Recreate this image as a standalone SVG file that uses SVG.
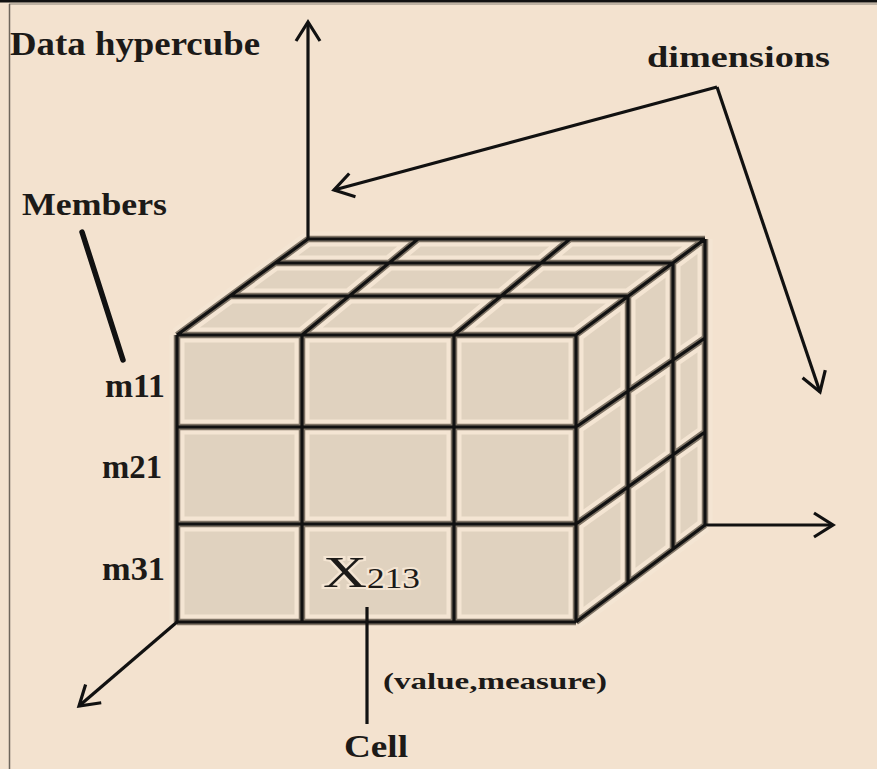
<svg xmlns="http://www.w3.org/2000/svg" xmlns:xlink="http://www.w3.org/1999/xlink" width="877" height="769" viewBox="0 0 877 769">
  <style>
    .bg { fill: #f3e2cf; }
    .face { fill: #e0d2bf; stroke: none; }
    .margin { fill: none; stroke: #f4e5d3; stroke-width: 15; stroke-linejoin: round; }
    .shadow { fill: none; stroke: #7f7466; stroke-width: 6.5; stroke-linejoin: round; }
    .edge { fill: none; stroke: #111; stroke-width: 3.2; stroke-linejoin: round; }
    .conn { fill: none; stroke: #111; stroke-width: 3.2; }
    .lbl { font-family: "Liberation Serif", "Times New Roman", serif; fill: #1c1a18; font-weight: bold; }
    .plain { font-family: "Liberation Serif", "Times New Roman", serif; fill: #1c1a18; }
  </style>
  <defs>
    <marker id="arrow" markerUnits="userSpaceOnUse" viewBox="-22 -14 26 28" refX="0" refY="0" markerWidth="26" markerHeight="28" orient="auto">
      <path d="M-19,-12 L0,0 L-19,12" fill="none" stroke="#111" stroke-width="3.2" stroke-linejoin="miter"/>
    </marker>
    <path id="grid" d="
      M177,335 H576 M177,427 H576 M177,524 H576 M177,622 H576
      M177,335 V622 M302,335 V622 M454,335 V622 M576,335 V622
      M230,296 H628 M275,263 H673 M308,239 H705
      M177,335 L308,239
      M302,335 L418,239
      M454,335 L570,239
      M576,335 L705,239
      M628,296 V583 M673,263 V549 M705,239 V525
      M576,427 L705,338
      M576,524 L705,432
      M576,622 L705,525"/>
  </defs>

  <g id="frame">
    <rect class="bg" x="0" y="0" width="877" height="769"/>
    <rect x="0" y="0" width="877" height="2.5" fill="#111"/>
    <line x1="9" y1="4" x2="877" y2="4" stroke="#8a8278" stroke-width="1.2"/>
    <line x1="9.5" y1="4" x2="9.5" y2="769" stroke="#6e665c" stroke-width="1.5"/>
  </g>

  <g id="cube">
    <rect class="face" x="177" y="335" width="399" height="287"/>
    <polygon class="face" points="177,335 308,239 705,239 576,335"/>
    <polygon class="face" points="576,335 705,239 705,525 576,622"/>
    <use xlink:href="#grid" class="margin"/>
    <use xlink:href="#grid" class="shadow"/>
    <use xlink:href="#grid" class="edge"/>
  </g>

  <g id="connectors">
    <line id="axis-up" class="conn" x1="308" y1="239" x2="308" y2="22" marker-end="url(#arrow)"/>
    <line id="axis-right" class="conn" x1="705" y1="525" x2="833" y2="525" marker-end="url(#arrow)"/>
    <line id="axis-front" class="conn" x1="177" y1="622" x2="79" y2="706" marker-end="url(#arrow)"/>
    <line id="dim-left" class="conn" x1="717" y1="87" x2="334" y2="190" marker-end="url(#arrow)"/>
    <line id="dim-right" class="conn" x1="717" y1="87" x2="820" y2="392" marker-end="url(#arrow)"/>
    <line id="members-line" x1="82" y1="232" x2="123" y2="360" stroke="#111" stroke-width="5.5" stroke-linecap="round"/>
    <line id="cell-line" x1="367" y1="607" x2="367" y2="724" stroke="#111" stroke-width="3.2"/>
  </g>

  <g id="label-data-hypercube">
    <text class="lbl" x="10" y="55" font-size="34" textLength="250" lengthAdjust="spacingAndGlyphs">Data hypercube</text>
  </g>
  <g id="label-dimensions">
    <text class="lbl" x="647" y="67" font-size="29" textLength="183" lengthAdjust="spacingAndGlyphs">dimensions</text>
  </g>
  <g id="label-members">
    <text class="lbl" x="22" y="215" font-size="32" textLength="145" lengthAdjust="spacingAndGlyphs">Members</text>
  </g>
  <g id="label-m11">
    <text class="lbl" x="105" y="397" font-size="33" textLength="60" lengthAdjust="spacingAndGlyphs">m11</text>
  </g>
  <g id="label-m21">
    <text class="lbl" x="102" y="478" font-size="33" textLength="60" lengthAdjust="spacingAndGlyphs">m21</text>
  </g>
  <g id="label-m31">
    <text class="lbl" x="102" y="580" font-size="33" textLength="63" lengthAdjust="spacingAndGlyphs">m31</text>
  </g>
  <g id="label-x213">
    <text class="plain" x="323" y="587" font-size="44" stroke="#f4e5d3" stroke-width="4" paint-order="stroke" textLength="44" lengthAdjust="spacingAndGlyphs">X</text>
    <text class="plain" x="367" y="588" font-size="30" stroke="#f4e5d3" stroke-width="4" paint-order="stroke" textLength="53" lengthAdjust="spacingAndGlyphs">213</text>
  </g>
  <g id="label-value-measure">
    <text class="lbl" x="383" y="689" font-size="23" textLength="224" lengthAdjust="spacingAndGlyphs">(value,measure)</text>
  </g>
  <g id="label-cell">
    <text class="lbl" x="344" y="757" font-size="32" textLength="64" lengthAdjust="spacingAndGlyphs">Cell</text>
  </g>
</svg>
